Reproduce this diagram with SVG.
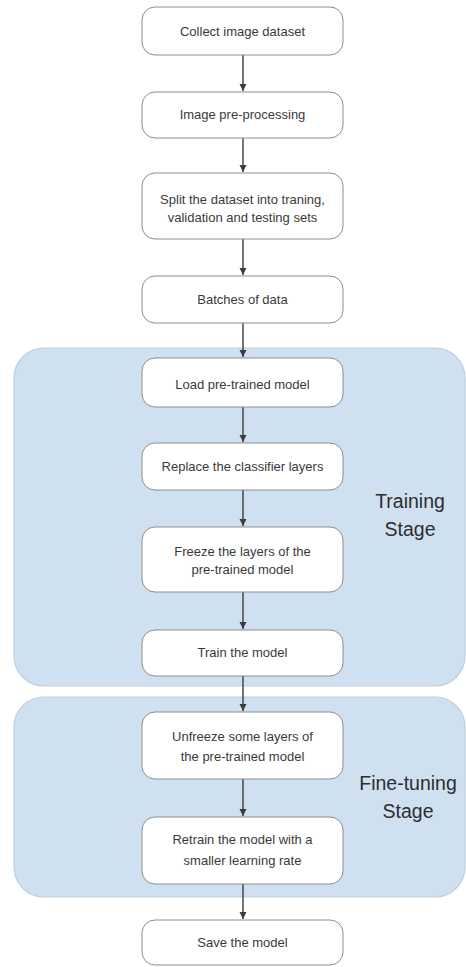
<svg xmlns="http://www.w3.org/2000/svg" width="466" height="967" viewBox="0 0 466 967">
  <style>
    .panel { fill: #cfe1f1; stroke: #bfd0df; stroke-width: 1.2; }
    .box { fill: #ffffff; stroke: #8e8e8e; stroke-width: 1; }
    .lbl { font-family: "Liberation Sans", Arial, sans-serif; font-size: 13px; fill: #3a3a3a; text-anchor: middle; }
    .stage { font-family: "Liberation Sans", Arial, sans-serif; font-size: 19.5px; fill: #2e2e2e; text-anchor: middle; }
    .edge { stroke: #3c3c3c; stroke-width: 1.4; fill: none; marker-end: url(#arrow); }
  </style>
  <defs>
    <marker id="arrow" markerWidth="8" markerHeight="8" refX="7" refY="4" orient="auto" markerUnits="userSpaceOnUse">
      <path d="M0,0.5 L7,4 L0,7.5 Z" fill="#3c3c3c"/>
    </marker>
  </defs>
  <rect width="466" height="967" fill="#ffffff"/>

  <!-- stage panels -->
  <g id="training-stage">
    <rect class="panel" x="14" y="348" width="451" height="338" rx="30"/>
    <text class="stage" x="410" y="508">Training</text>
    <text class="stage" x="410" y="536">Stage</text>
  </g>
  <g id="finetuning-stage">
    <rect class="panel" x="14" y="697" width="451" height="200" rx="30"/>
    <text class="stage" x="408" y="790">Fine-tuning</text>
    <text class="stage" x="408" y="818">Stage</text>
  </g>

  <!-- connectors -->
  <g id="connectors">
    <line class="edge" x1="243" y1="55" x2="243" y2="91"/>
    <line class="edge" x1="243" y1="138" x2="243" y2="172"/>
    <line class="edge" x1="243" y1="239" x2="243" y2="275"/>
    <line class="edge" x1="243" y1="323" x2="243" y2="357"/>
    <line class="edge" x1="243" y1="407" x2="243" y2="442"/>
    <line class="edge" x1="243" y1="490" x2="243" y2="526"/>
    <line class="edge" x1="243" y1="592" x2="243" y2="629"/>
    <line class="edge" x1="243" y1="676" x2="243" y2="711"/>
    <line class="edge" x1="243" y1="779" x2="243" y2="816"/>
    <line class="edge" x1="243" y1="884" x2="243" y2="919"/>
  </g>

  <!-- process steps -->
  <g id="collect">
    <rect class="box" x="142" y="7" width="201" height="48" rx="13"/>
    <text class="lbl" x="242.5" y="36">Collect image dataset</text>
  </g>
  <g id="preprocess">
    <rect class="box" x="142" y="92" width="201" height="46" rx="13"/>
    <text class="lbl" x="242.5" y="119">Image pre-processing</text>
  </g>
  <g id="split">
    <rect class="box" x="142" y="173" width="201" height="66" rx="13"/>
    <text class="lbl" x="242.5" y="204">Split the dataset into traning,</text>
    <text class="lbl" x="242.5" y="222">validation and testing sets</text>
  </g>
  <g id="batches">
    <rect class="box" x="142" y="276" width="201" height="47" rx="13"/>
    <text class="lbl" x="242.5" y="304">Batches of data</text>
  </g>
  <g id="load">
    <rect class="box" x="142" y="358" width="201" height="49" rx="13"/>
    <text class="lbl" x="242.5" y="389">Load pre-trained model</text>
  </g>
  <g id="replace">
    <rect class="box" x="142" y="443" width="201" height="47" rx="13"/>
    <text class="lbl" x="242.5" y="471">Replace the classifier layers</text>
  </g>
  <g id="freeze">
    <rect class="box" x="142" y="527" width="201" height="65" rx="13"/>
    <text class="lbl" x="242.5" y="556">Freeze the layers of the</text>
    <text class="lbl" x="242.5" y="574">pre-trained model</text>
  </g>
  <g id="train">
    <rect class="box" x="142" y="630" width="201" height="46" rx="13"/>
    <text class="lbl" x="242.5" y="657">Train the model</text>
  </g>
  <g id="unfreeze">
    <rect class="box" x="142" y="712" width="201" height="67" rx="13"/>
    <text class="lbl" x="242.5" y="741">Unfreeze some layers of</text>
    <text class="lbl" x="242.5" y="761">the pre-trained model</text>
  </g>
  <g id="retrain">
    <rect class="box" x="142" y="817" width="201" height="67" rx="13"/>
    <text class="lbl" x="242.5" y="844">Retrain the model with a</text>
    <text class="lbl" x="242.5" y="865">smaller learning rate</text>
  </g>
  <g id="save">
    <rect class="box" x="142" y="920" width="201" height="45" rx="13"/>
    <text class="lbl" x="242.5" y="947">Save the model</text>
  </g>
</svg>
